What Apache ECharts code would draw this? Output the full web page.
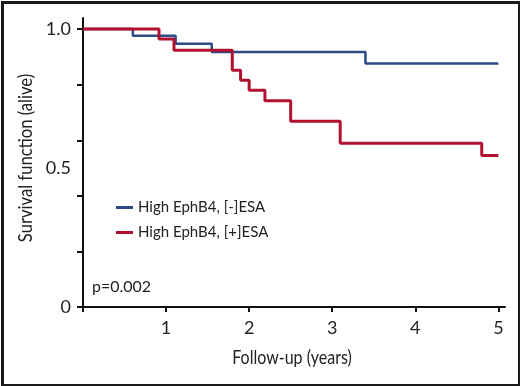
<!DOCTYPE html>
<html>
<head>
<meta charset="utf-8">
<script src="https://cdn.jsdelivr.net/npm/echarts@6/dist/echarts.min.js"></script>
<style>
  html, body { margin: 0; padding: 0; background: #fff; }
  #chart { width: 520px; height: 386px; }
</style>
</head>
<body>
<div id="chart"></div>
<script>
// Kaplan-Meier steps
var blueTimes = [0, 0.6, 1.115, 1.55, 3.4, 5.0];
var blueSurv = [1.0, 0.976, 0.947, 0.918, 0.876, 0.876];
var redTimes = [0, 0.915, 1.095, 1.797, 1.897, 2.0, 2.19, 2.5, 3.096, 4.8, 5.0];
var redSurv = [1.0, 0.964, 0.924, 0.852, 0.816, 0.780, 0.742, 0.668, 0.589, 0.545, 0.545];
var seriesNames = ['High EphB4, [-]ESA', 'High EphB4, [+]ESA'];
var xTicks = [0, 1, 2, 3, 4, 5];
var xLabels = [1, 2, 3, 4, 5];
var yTicks = [0, 0.2, 0.4, 0.6, 0.8, 1.0];
var yLabels = [0, 0.5, 1.0];

function pairs(t, s) {
    var out = [];
    for (var i = 0; i < t.length; i++) { out.push([t[i], s[i]]); }
    return out;
}

var regular = 'Lato, "Open Sans", sans-serif';

var option = {
    animation: false,
    color: ['#2c4b86', '#b2102f'],
    graphic: [{
        type: 'rect',
        left: 0, top: 0,
        shape: { x: 1.5, y: 1.5, width: 517, height: 383 },
        style: { fill: 'none', stroke: '#1a1a1a', lineWidth: 3 },
        silent: true
    }, {
        type: 'text',
        left: 92, top: 279,
        style: { text: 'p=0.002', font: '16px ' + regular, fill: '#222' }
    }, {
        // axis titles, squeezed to look like the condensed face of the original
        type: 'text',
        x: 292, y: 358, scaleX: 0.8,
        style: { text: 'Follow-up (years)', font: '20px ' + regular, fill: '#222', align: 'center', verticalAlign: 'middle' }
    }, {
        type: 'text',
        x: 26, y: 158, rotation: Math.PI / 2, scaleX: 0.83,
        style: { text: 'Survival function (alive)', font: '20px ' + regular, fill: '#222', align: 'center', verticalAlign: 'middle' }
    }],
    legend: {
        orient: 'vertical',
        left: 111, top: 194,
        itemWidth: 17, itemHeight: 3,
        itemGap: 8,
        icon: 'rect',
        textStyle: { fontFamily: regular, fontSize: 15, color: '#222', lineHeight: 17 },
        data: seriesNames
    },
    grid: { left: 83, right: 15, top: 18, bottom: 79 },
    xAxis: {
        type: 'value',
        min: 0, max: 5.08,
        axisLine: { lineStyle: { color: '#111', width: 2 } },
        axisTick: { customValues: xTicks, length: 5, lineStyle: { color: '#111', width: 2 } },
        axisLabel: { customValues: xLabels, margin: 12, fontFamily: regular, fontSize: 18, color: '#222' },
        splitLine: { show: false }
    },
    yAxis: {
        type: 'value',
        min: 0, max: 1.04,
        axisLine: { show: true, lineStyle: { color: '#111', width: 2 } },
        axisTick: { show: true, customValues: yTicks, length: 6, lineStyle: { color: '#111', width: 2 } },
        axisLabel: {
            customValues: yLabels, margin: 12,
            fontFamily: regular, fontSize: 18, color: '#222',
            formatter: function (v) { return v === 0 ? '0' : v.toFixed(1); }
        },
        splitLine: { show: false }
    },
    series: [{
        name: seriesNames[0],
        type: 'line',
        step: 'end',
        symbol: 'none',
        lineStyle: { width: 2.5 },
        data: pairs(blueTimes, blueSurv)
    }, {
        name: seriesNames[1],
        type: 'line',
        step: 'end',
        symbol: 'none',
        lineStyle: { width: 3 },
        data: pairs(redTimes, redSurv)
    }]
};

var myChart = echarts.init(document.getElementById('chart'));
myChart.setOption(option);
</script>
</body>
</html>
